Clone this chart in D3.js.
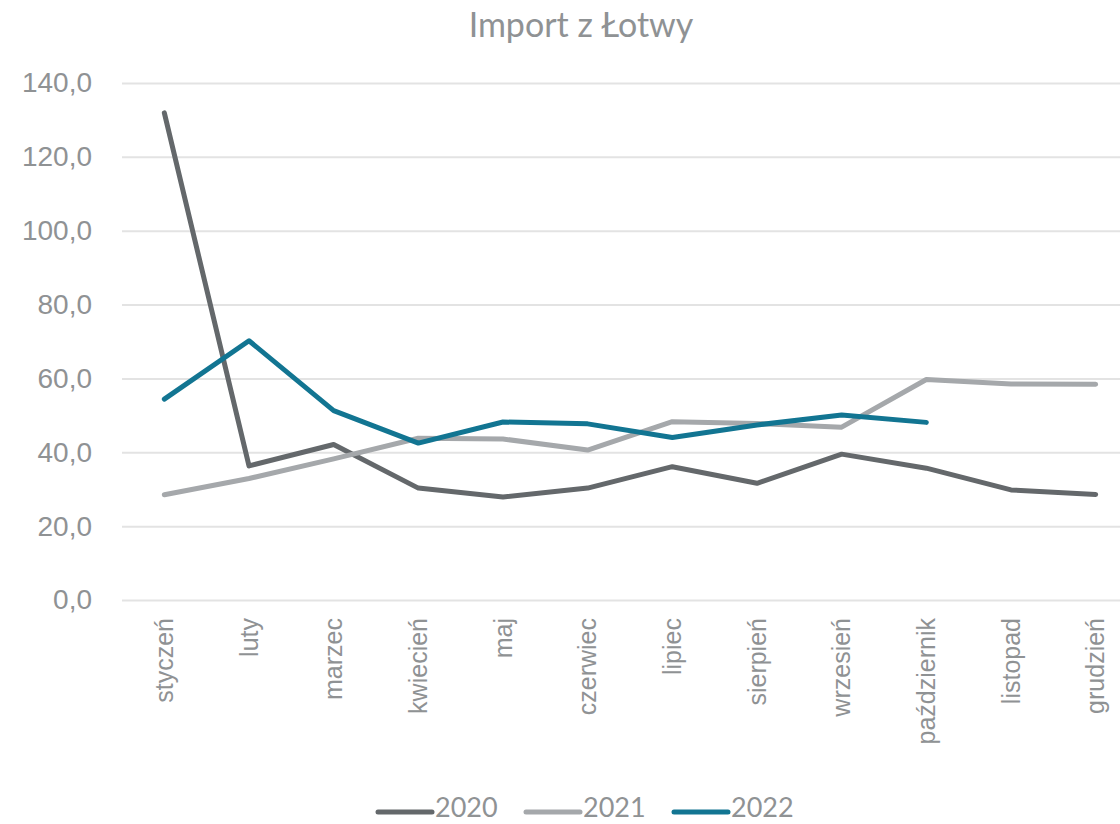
<!DOCTYPE html>
<html><head><meta charset="utf-8">
<script src="https://cdn.jsdelivr.net/npm/d3@7"></script>
<style>body{margin:0;background:#fff;} svg{display:block;font-family:Lato,"Open Sans",sans-serif;}</style>
</head><body><svg id="c" width="1120" height="824"></svg>
<script>
const months = ["styczeń","luty","marzec","kwiecień","maj","czerwiec","lipiec","sierpień","wrzesień","październik","listopad","grudzień"];
const s2020 = [131.9,36.3,42.1,30.3,27.9,30.3,36.1,31.6,39.5,35.7,29.8,28.6];
const s2021 = [28.5,32.9,38.2,43.8,43.6,40.6,48.3,47.8,46.8,59.7,58.5,58.4];
const s2022 = [54.4,70.2,51.3,42.5,48.2,47.7,44.0,47.4,50.1,48.1];
const yTicks = [0,20,40,60,80,100,120,140];
const seriesNames = ["2020","2021","2022"];
const seriesColors = ["#64686b","#a5a8ab","#127592"];

const svg = d3.select("#c");
const x = d3.scaleBand().domain(months).range([122,1138]);
const y = d3.scaleLinear().domain([0,140]).range([600,83]);
const txt = "#8f9294";

svg.append("text").attr("x",581).attr("y",37).attr("text-anchor","middle")
  .attr("font-size",34).attr("fill",txt).text("Import z Łotwy");

const yAxis = svg.append("g").attr("transform","translate(122,0)")
  .call(d3.axisLeft(y).tickValues(yTicks).tickSize(-1016).tickFormat(d=>d3.format(".1f")(d).replace(".",",")));
yAxis.select(".domain").remove();
yAxis.selectAll(".tick line").attr("stroke","#e3e3e3").attr("stroke-width",2);
yAxis.selectAll(".tick text").attr("x",-30).attr("font-size",28).attr("fill",txt);

const xAxis = svg.append("g").attr("transform","translate(0,600)")
  .call(d3.axisBottom(x).tickSize(0));
xAxis.select(".domain").remove();
xAxis.selectAll(".tick text").attr("font-size",25).attr("fill",txt)
  .attr("transform","rotate(-90)").attr("text-anchor","end").attr("x",-18).attr("y",0).attr("dy","0.35em");

const line = d3.line().x((d,i)=>x(months[i])+x.bandwidth()/2).y(d=>y(d));
[s2020,s2021,s2022].forEach((s,i)=>{
  svg.append("path").datum(s).attr("d",line).attr("fill","none")
    .attr("stroke",seriesColors[i]).attr("stroke-width",5).attr("stroke-linecap","round").attr("stroke-linejoin","round");
});

const legX = [378,526,674];
seriesNames.forEach((n,i)=>{
  svg.append("line").attr("x1",legX[i]).attr("x2",legX[i]+54).attr("y1",812).attr("y2",812)
    .attr("stroke",seriesColors[i]).attr("stroke-width",5).attr("stroke-linecap","round");
  svg.append("text").attr("x",legX[i]+57).attr("y",817).attr("font-size",27).attr("fill",txt).text(n);
});
</script></body></html>
